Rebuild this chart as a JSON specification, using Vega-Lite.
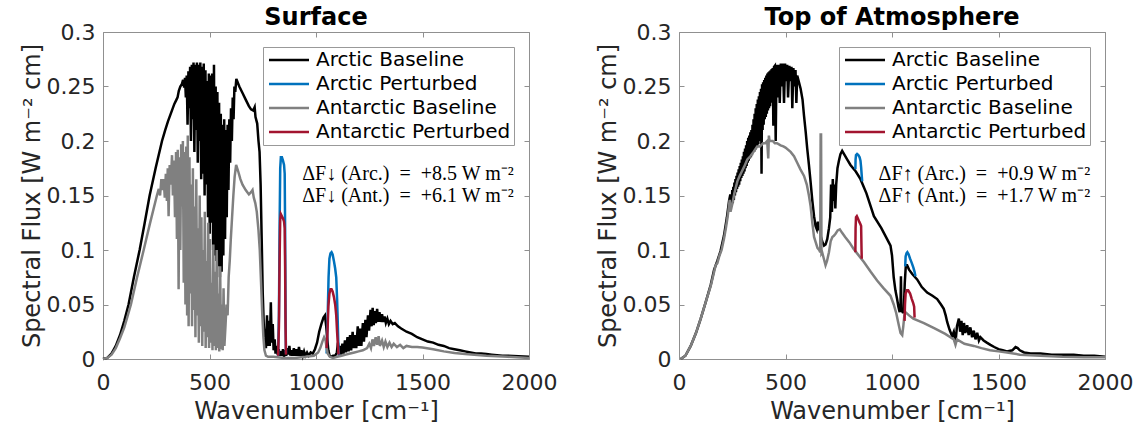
{
"$schema":"https://vega.github.io/schema/vega-lite/v6.json",
"padding":{"left":20,"top":6,"right":5,"bottom":2},
"spacing":150,
"bounds":"flush",
"resolve":{"scale":{"color":"independent"},"legend":{"color":"independent"}},
"datasets":{
"sAB":[{"x":0,"y":0},{"x":20,"y":0.001},{"x":40,"y":0.005},{"x":60,"y":0.012},{"x":80,"y":0.022},{"x":100,"y":0.035},{"x":120,"y":0.05},{"x":145,"y":0.075},{"x":172,"y":0.1},{"x":195,"y":0.124},{"x":219,"y":0.15},{"x":248,"y":0.176},{"x":277,"y":0.2},{"x":292,"y":0.21},{"x":305,"y":0.218},{"x":320,"y":0.226},{"x":335,"y":0.234},{"x":345,"y":0.238},{"x":350,"y":0.24},{"x":356,"y":0.246},{"x":363,"y":0.25},{"x":370,"y":0.252},{"x":376,"y":0.256},{"x":381,"y":0.249},{"x":385,"y":0.258},{"x":389,"y":0.24},{"x":393,"y":0.26},{"x":397,"y":0.215},{"x":401,"y":0.264},{"x":405,"y":0.23},{"x":409,"y":0.268},{"x":413,"y":0.2},{"x":417,"y":0.27},{"x":421,"y":0.22},{"x":425,"y":0.272},{"x":429,"y":0.19},{"x":433,"y":0.27},{"x":437,"y":0.21},{"x":441,"y":0.272},{"x":445,"y":0.18},{"x":449,"y":0.27},{"x":453,"y":0.2},{"x":457,"y":0.272},{"x":461,"y":0.165},{"x":465,"y":0.268},{"x":469,"y":0.17},{"x":473,"y":0.271},{"x":477,"y":0.15},{"x":481,"y":0.265},{"x":485,"y":0.16},{"x":489,"y":0.255},{"x":493,"y":0.13},{"x":497,"y":0.262},{"x":501,"y":0.115},{"x":505,"y":0.26},{"x":509,"y":0.125},{"x":513,"y":0.262},{"x":517,"y":0.1},{"x":521,"y":0.27},{"x":525,"y":0.095},{"x":529,"y":0.25},{"x":533,"y":0.09},{"x":537,"y":0.245},{"x":541,"y":0.085},{"x":545,"y":0.235},{"x":549,"y":0.075},{"x":553,"y":0.225},{"x":557,"y":0.08},{"x":561,"y":0.215},{"x":565,"y":0.095},{"x":569,"y":0.22},{"x":573,"y":0.11},{"x":577,"y":0.21},{"x":581,"y":0.13},{"x":585,"y":0.215},{"x":589,"y":0.155},{"x":593,"y":0.22},{"x":597,"y":0.18},{"x":601,"y":0.23},{"x":605,"y":0.2},{"x":609,"y":0.24},{"x":613,"y":0.22},{"x":617,"y":0.25},{"x":621,"y":0.245},{"x":626,"y":0.257},{"x":640,"y":0.25},{"x":655,"y":0.244},{"x":670,"y":0.238},{"x":685,"y":0.232},{"x":695,"y":0.229},{"x":705,"y":0.228},{"x":712,"y":0.231},{"x":716,"y":0.222},{"x":724,"y":0.216},{"x":730,"y":0.2},{"x":735,"y":0.19},{"x":740,"y":0.16},{"x":745,"y":0.11},{"x":750,"y":0.06},{"x":755,"y":0.03},{"x":760,"y":0.015},{"x":765,"y":0.01},{"x":770,"y":0.04},{"x":774,"y":0.012},{"x":779,"y":0.035},{"x":783,"y":0.012},{"x":788,"y":0.052},{"x":792,"y":0.015},{"x":797,"y":0.032},{"x":801,"y":0.008},{"x":806,"y":0.018},{"x":810,"y":0.005},{"x":815,"y":0.012},{"x":820,"y":0.004},{"x":825,"y":0.009},{"x":830,"y":0.003},{"x":835,"y":0.007},{"x":840,"y":0.003},{"x":845,"y":0.009},{"x":850,"y":0.002},{"x":855,"y":0.008},{"x":860,"y":0.003},{"x":865,"y":0.01},{"x":870,"y":0.004},{"x":875,"y":0.012},{"x":880,"y":0.003},{"x":885,"y":0.008},{"x":890,"y":0.003},{"x":896,"y":0.01},{"x":902,"y":0.003},{"x":908,"y":0.009},{"x":914,"y":0.003},{"x":920,"y":0.011},{"x":926,"y":0.003},{"x":932,"y":0.008},{"x":938,"y":0.003},{"x":944,"y":0.007},{"x":950,"y":0.003},{"x":958,"y":0.006},{"x":966,"y":0.003},{"x":975,"y":0.006},{"x":985,"y":0.005},{"x":995,"y":0.009},{"x":1005,"y":0.015},{"x":1015,"y":0.025},{"x":1025,"y":0.032},{"x":1035,"y":0.038},{"x":1042,"y":0.04},{"x":1048,"y":0.03},{"x":1053,"y":0.018},{"x":1058,"y":0.008},{"x":1064,"y":0.003},{"x":1072,"y":0.002},{"x":1080,"y":0.003},{"x":1090,"y":0.003},{"x":1098,"y":0.006},{"x":1103,"y":0.015},{"x":1108,"y":0.005},{"x":1113,"y":0.012},{"x":1118,"y":0.004},{"x":1124,"y":0.014},{"x":1129,"y":0.005},{"x":1136,"y":0.017},{"x":1141,"y":0.006},{"x":1148,"y":0.02},{"x":1153,"y":0.007},{"x":1160,"y":0.022},{"x":1165,"y":0.008},{"x":1172,"y":0.025},{"x":1177,"y":0.01},{"x":1184,"y":0.022},{"x":1189,"y":0.01},{"x":1196,"y":0.03},{"x":1201,"y":0.012},{"x":1208,"y":0.028},{"x":1213,"y":0.012},{"x":1220,"y":0.033},{"x":1225,"y":0.016},{"x":1232,"y":0.036},{"x":1237,"y":0.02},{"x":1244,"y":0.04},{"x":1249,"y":0.026},{"x":1256,"y":0.045},{"x":1261,"y":0.03},{"x":1266,"y":0.047},{"x":1271,"y":0.031},{"x":1276,"y":0.044},{"x":1281,"y":0.033},{"x":1287,"y":0.046},{"x":1292,"y":0.034},{"x":1298,"y":0.043},{"x":1304,"y":0.034},{"x":1310,"y":0.041},{"x":1316,"y":0.034},{"x":1322,"y":0.039},{"x":1328,"y":0.033},{"x":1335,"y":0.037},{"x":1342,"y":0.032},{"x":1350,"y":0.035},{"x":1360,"y":0.032},{"x":1370,"y":0.033},{"x":1385,"y":0.03},{"x":1400,"y":0.028},{"x":1425,"y":0.025},{"x":1450,"y":0.023},{"x":1475,"y":0.02},{"x":1500,"y":0.018},{"x":1525,"y":0.016},{"x":1550,"y":0.015},{"x":1575,"y":0.013},{"x":1600,"y":0.012},{"x":1625,"y":0.01},{"x":1650,"y":0.009},{"x":1675,"y":0.008},{"x":1700,"y":0.007},{"x":1725,"y":0.006},{"x":1750,"y":0.005},{"x":1775,"y":0.005},{"x":1800,"y":0.0045},{"x":1825,"y":0.004},{"x":1850,"y":0.0035},{"x":1875,"y":0.003},{"x":1900,"y":0.003},{"x":1950,"y":0.0025},{"x":2000,"y":0.002}],
"sAP":[{"g":1,"x":822,"y":0.003},{"g":1,"x":826,"y":0.04},{"g":1,"x":829,"y":0.12},{"g":1,"x":832,"y":0.175},{"g":1,"x":835,"y":0.185},{"g":1,"x":840,"y":0.185},{"g":1,"x":845,"y":0.182},{"g":1,"x":850,"y":0.178},{"g":1,"x":853,"y":0.17},{"g":1,"x":855,"y":0.12},{"g":1,"x":857,"y":0.04},{"g":1,"x":859,"y":0.005},{"g":2,"x":1050,"y":0.005},{"g":2,"x":1055,"y":0.04},{"g":2,"x":1059,"y":0.075},{"g":2,"x":1063,"y":0.092},{"g":2,"x":1068,"y":0.097},{"g":2,"x":1073,"y":0.098},{"g":2,"x":1078,"y":0.096},{"g":2,"x":1084,"y":0.09},{"g":2,"x":1090,"y":0.083},{"g":2,"x":1095,"y":0.075},{"g":2,"x":1099,"y":0.055},{"g":2,"x":1102,"y":0.035},{"g":2,"x":1105,"y":0.012},{"g":2,"x":1108,"y":0.002}],
"sNB":[{"x":0,"y":0},{"x":20,"y":0.001},{"x":40,"y":0.004},{"x":60,"y":0.01},{"x":80,"y":0.019},{"x":100,"y":0.029},{"x":115,"y":0.039},{"x":131,"y":0.05},{"x":160,"y":0.075},{"x":191,"y":0.1},{"x":220,"y":0.124},{"x":253,"y":0.15},{"x":262,"y":0.156},{"x":268,"y":0.15},{"x":274,"y":0.165},{"x":280,"y":0.155},{"x":285,"y":0.165},{"x":290,"y":0.148},{"x":295,"y":0.17},{"x":300,"y":0.145},{"x":304,"y":0.175},{"x":308,"y":0.131},{"x":313,"y":0.178},{"x":318,"y":0.16},{"x":324,"y":0.187},{"x":328,"y":0.15},{"x":333,"y":0.182},{"x":338,"y":0.13},{"x":343,"y":0.19},{"x":347,"y":0.11},{"x":351,"y":0.192},{"x":355,"y":0.064},{"x":359,"y":0.185},{"x":363,"y":0.1},{"x":367,"y":0.197},{"x":371,"y":0.14},{"x":375,"y":0.2},{"x":379,"y":0.07},{"x":383,"y":0.19},{"x":387,"y":0.05},{"x":391,"y":0.195},{"x":395,"y":0.04},{"x":398,"y":0.205},{"x":402,"y":0.03},{"x":406,"y":0.185},{"x":410,"y":0.06},{"x":414,"y":0.16},{"x":418,"y":0.03},{"x":422,"y":0.175},{"x":426,"y":0.045},{"x":430,"y":0.14},{"x":434,"y":0.02},{"x":438,"y":0.165},{"x":442,"y":0.04},{"x":446,"y":0.12},{"x":450,"y":0.015},{"x":454,"y":0.15},{"x":458,"y":0.03},{"x":462,"y":0.13},{"x":466,"y":0.012},{"x":470,"y":0.1},{"x":474,"y":0.025},{"x":478,"y":0.135},{"x":482,"y":0.01},{"x":486,"y":0.09},{"x":490,"y":0.02},{"x":494,"y":0.125},{"x":498,"y":0.01},{"x":502,"y":0.11},{"x":506,"y":0.015},{"x":510,"y":0.07},{"x":514,"y":0.008},{"x":518,"y":0.105},{"x":522,"y":0.012},{"x":526,"y":0.08},{"x":530,"y":0.008},{"x":534,"y":0.1},{"x":538,"y":0.01},{"x":542,"y":0.06},{"x":546,"y":0.007},{"x":550,"y":0.085},{"x":554,"y":0.009},{"x":558,"y":0.05},{"x":562,"y":0.008},{"x":566,"y":0.065},{"x":570,"y":0.012},{"x":575,"y":0.03},{"x":580,"y":0.05},{"x":585,"y":0.04},{"x":590,"y":0.075},{"x":595,"y":0.09},{"x":600,"y":0.11},{"x":606,"y":0.13},{"x":612,"y":0.15},{"x":618,"y":0.167},{"x":625,"y":0.178},{"x":635,"y":0.172},{"x":645,"y":0.165},{"x":655,"y":0.16},{"x":670,"y":0.155},{"x":685,"y":0.151},{"x":695,"y":0.153},{"x":702,"y":0.155},{"x":708,"y":0.148},{"x":715,"y":0.143},{"x":722,"y":0.135},{"x":730,"y":0.118},{"x":736,"y":0.1},{"x":742,"y":0.07},{"x":748,"y":0.04},{"x":753,"y":0.02},{"x":758,"y":0.008},{"x":765,"y":0.003},{"x":775,"y":0.002},{"x":800,"y":0.002},{"x":850,"y":0.001},{"x":900,"y":0.001},{"x":950,"y":0.002},{"x":990,"y":0.003},{"x":1010,"y":0.006},{"x":1020,"y":0.01},{"x":1030,"y":0.016},{"x":1038,"y":0.02},{"x":1045,"y":0.017},{"x":1050,"y":0.01},{"x":1055,"y":0.005},{"x":1065,"y":0.002},{"x":1080,"y":0.001},{"x":1100,"y":0.002},{"x":1120,"y":0.003},{"x":1140,"y":0.004},{"x":1160,"y":0.005},{"x":1180,"y":0.006},{"x":1200,"y":0.007},{"x":1220,"y":0.008},{"x":1240,"y":0.01},{"x":1250,"y":0.014},{"x":1258,"y":0.01},{"x":1265,"y":0.018},{"x":1272,"y":0.012},{"x":1280,"y":0.02},{"x":1287,"y":0.013},{"x":1294,"y":0.021},{"x":1300,"y":0.012},{"x":1310,"y":0.017},{"x":1318,"y":0.011},{"x":1326,"y":0.016},{"x":1335,"y":0.011},{"x":1345,"y":0.015},{"x":1355,"y":0.011},{"x":1365,"y":0.014},{"x":1380,"y":0.011},{"x":1395,"y":0.013},{"x":1410,"y":0.01},{"x":1425,"y":0.012},{"x":1450,"y":0.011},{"x":1475,"y":0.011},{"x":1500,"y":0.0105},{"x":1550,"y":0.009},{"x":1600,"y":0.007},{"x":1650,"y":0.0055},{"x":1700,"y":0.0045},{"x":1800,"y":0.003},{"x":1900,"y":0.002},{"x":2000,"y":0.001}],
"sNP":[{"g":1,"x":822,"y":0.003},{"g":1,"x":826,"y":0.03},{"g":1,"x":829,"y":0.09},{"g":1,"x":832,"y":0.128},{"g":1,"x":835,"y":0.133},{"g":1,"x":840,"y":0.131},{"g":1,"x":845,"y":0.129},{"g":1,"x":850,"y":0.126},{"g":1,"x":853,"y":0.12},{"g":1,"x":855,"y":0.085},{"g":1,"x":857,"y":0.03},{"g":1,"x":859,"y":0.004},{"g":2,"x":1050,"y":0.01},{"g":2,"x":1054,"y":0.025},{"g":2,"x":1058,"y":0.048},{"g":2,"x":1063,"y":0.06},{"g":2,"x":1068,"y":0.064},{"g":2,"x":1073,"y":0.064},{"g":2,"x":1078,"y":0.062},{"g":2,"x":1084,"y":0.057},{"g":2,"x":1090,"y":0.05},{"g":2,"x":1095,"y":0.04},{"g":2,"x":1099,"y":0.025},{"g":2,"x":1103,"y":0.012},{"g":2,"x":1106,"y":0.004}],
"tAB":[{"x":8,"y":0},{"x":30,"y":0.003},{"x":55,"y":0.012},{"x":80,"y":0.024},{"x":102,"y":0.037},{"x":125,"y":0.052},{"x":149,"y":0.068},{"x":165,"y":0.082},{"x":180,"y":0.09},{"x":195,"y":0.099},{"x":211,"y":0.113},{"x":225,"y":0.13},{"x":235,"y":0.145},{"x":240,"y":0.15},{"x":245,"y":0.15},{"x":247.5,"y":0.14},{"x":250,"y":0.155},{"x":252.5,"y":0.143},{"x":255,"y":0.158},{"x":257.5,"y":0.146},{"x":260,"y":0.162},{"x":262.5,"y":0.15},{"x":265,"y":0.165},{"x":267.5,"y":0.153},{"x":270,"y":0.168},{"x":272.5,"y":0.156},{"x":275,"y":0.171},{"x":277.5,"y":0.158},{"x":280,"y":0.174},{"x":282.5,"y":0.16},{"x":285,"y":0.177},{"x":287.5,"y":0.163},{"x":290,"y":0.18},{"x":292.5,"y":0.166},{"x":295,"y":0.183},{"x":297.5,"y":0.168},{"x":300,"y":0.186},{"x":302.5,"y":0.17},{"x":305,"y":0.19},{"x":307.5,"y":0.172},{"x":310,"y":0.193},{"x":312.5,"y":0.175},{"x":315,"y":0.196},{"x":317.5,"y":0.177},{"x":320,"y":0.2},{"x":322.5,"y":0.18},{"x":325,"y":0.203},{"x":327.5,"y":0.182},{"x":330,"y":0.205},{"x":332.5,"y":0.184},{"x":335,"y":0.208},{"x":337.5,"y":0.185},{"x":340,"y":0.21},{"x":342.5,"y":0.187},{"x":345,"y":0.215},{"x":347.5,"y":0.19},{"x":350,"y":0.22},{"x":352.5,"y":0.19},{"x":355,"y":0.225},{"x":357.5,"y":0.192},{"x":360,"y":0.23},{"x":362.5,"y":0.194},{"x":365,"y":0.234},{"x":367.5,"y":0.195},{"x":370,"y":0.238},{"x":372.5,"y":0.197},{"x":375,"y":0.241},{"x":377.5,"y":0.2},{"x":380,"y":0.245},{"x":382.5,"y":0.205},{"x":385,"y":0.248},{"x":387.5,"y":0.17},{"x":390,"y":0.252},{"x":392.5,"y":0.21},{"x":395,"y":0.254},{"x":397.5,"y":0.215},{"x":400,"y":0.256},{"x":402.5,"y":0.22},{"x":405,"y":0.258},{"x":407.5,"y":0.222},{"x":410,"y":0.26},{"x":412.5,"y":0.225},{"x":415,"y":0.262},{"x":417.5,"y":0.228},{"x":420,"y":0.263},{"x":422.5,"y":0.23},{"x":425,"y":0.264},{"x":427.5,"y":0.232},{"x":430,"y":0.265},{"x":432.5,"y":0.235},{"x":435,"y":0.266},{"x":437.5,"y":0.236},{"x":440,"y":0.267},{"x":443,"y":0.214},{"x":446,"y":0.268},{"x":450,"y":0.269},{"x":454,"y":0.2},{"x":458,"y":0.27},{"x":463,"y":0.24},{"x":468,"y":0.27},{"x":473,"y":0.235},{"x":478,"y":0.271},{"x":484,"y":0.25},{"x":488,"y":0.271},{"x":493,"y":0.235},{"x":498,"y":0.271},{"x":503,"y":0.255},{"x":508,"y":0.27},{"x":512,"y":0.24},{"x":518,"y":0.269},{"x":524,"y":0.255},{"x":528,"y":0.268},{"x":532,"y":0.23},{"x":537,"y":0.267},{"x":542,"y":0.25},{"x":547,"y":0.265},{"x":551,"y":0.235},{"x":555,"y":0.26},{"x":563,"y":0.254},{"x":571,"y":0.248},{"x":580,"y":0.238},{"x":587,"y":0.223},{"x":595,"y":0.208},{"x":602,"y":0.193},{"x":610,"y":0.178},{"x":618,"y":0.162},{"x":626,"y":0.145},{"x":634,"y":0.131},{"x":641,"y":0.122},{"x":647,"y":0.119},{"x":652,"y":0.126},{"x":656,"y":0.118},{"x":660,"y":0.122},{"x":665,"y":0.113},{"x":672,"y":0.108},{"x":681,"y":0.104},{"x":688,"y":0.105},{"x":696,"y":0.11},{"x":704,"y":0.12},{"x":710,"y":0.13},{"x":714,"y":0.16},{"x":718,"y":0.135},{"x":722,"y":0.165},{"x":726,"y":0.145},{"x":730,"y":0.16},{"x":734,"y":0.138},{"x":738,"y":0.16},{"x":744,"y":0.175},{"x":751,"y":0.182},{"x":758,"y":0.188},{"x":766,"y":0.191},{"x":775,"y":0.188},{"x":790,"y":0.183},{"x":805,"y":0.178},{"x":830,"y":0.172},{"x":852,"y":0.165},{"x":880,"y":0.152},{"x":915,"y":0.131},{"x":950,"y":0.12},{"x":977,"y":0.11},{"x":993,"y":0.104},{"x":1000,"y":0.095},{"x":1008,"y":0.075},{"x":1016,"y":0.063},{"x":1024,"y":0.055},{"x":1030,"y":0.048},{"x":1036,"y":0.043},{"x":1040,"y":0.05},{"x":1042,"y":0.076},{"x":1044,"y":0.045},{"x":1050,"y":0.043},{"x":1055,"y":0.043},{"x":1060,"y":0.07},{"x":1065,"y":0.086},{"x":1071,"y":0.086},{"x":1080,"y":0.082},{"x":1095,"y":0.078},{"x":1118,"y":0.073},{"x":1140,"y":0.066},{"x":1165,"y":0.061},{"x":1190,"y":0.058},{"x":1212,"y":0.055},{"x":1230,"y":0.05},{"x":1243,"y":0.046},{"x":1252,"y":0.04},{"x":1259,"y":0.034},{"x":1270,"y":0.027},{"x":1282,"y":0.021},{"x":1290,"y":0.025},{"x":1298,"y":0.015},{"x":1305,"y":0.03},{"x":1314,"y":0.037},{"x":1320,"y":0.025},{"x":1326,"y":0.035},{"x":1332,"y":0.022},{"x":1338,"y":0.033},{"x":1344,"y":0.024},{"x":1353,"y":0.031},{"x":1360,"y":0.022},{"x":1368,"y":0.029},{"x":1376,"y":0.02},{"x":1384,"y":0.026},{"x":1392,"y":0.018},{"x":1400,"y":0.024},{"x":1408,"y":0.017},{"x":1415,"y":0.02},{"x":1430,"y":0.017},{"x":1445,"y":0.015},{"x":1462,"y":0.013},{"x":1480,"y":0.011},{"x":1500,"y":0.009},{"x":1520,"y":0.008},{"x":1540,"y":0.007},{"x":1565,"y":0.008},{"x":1580,"y":0.011},{"x":1590,"y":0.01},{"x":1600,"y":0.008},{"x":1620,"y":0.006},{"x":1650,"y":0.005},{"x":1697,"y":0.005},{"x":1750,"y":0.004},{"x":1800,"y":0.004},{"x":1853,"y":0.004},{"x":1900,"y":0.003},{"x":1950,"y":0.003},{"x":2000,"y":0.002}],
"tAP":[{"g":1,"x":828,"y":0.174},{"g":1,"x":829,"y":0.183},{"g":1,"x":831,"y":0.187},{"g":1,"x":836,"y":0.188},{"g":1,"x":842,"y":0.187},{"g":1,"x":848,"y":0.185},{"g":1,"x":852,"y":0.182},{"g":1,"x":855,"y":0.176},{"g":1,"x":858,"y":0.168},{"g":1,"x":860,"y":0.163},{"g":2,"x":1062,"y":0.085},{"g":2,"x":1064,"y":0.094},{"g":2,"x":1068,"y":0.097},{"g":2,"x":1072,"y":0.098},{"g":2,"x":1078,"y":0.096},{"g":2,"x":1085,"y":0.092},{"g":2,"x":1093,"y":0.088},{"g":2,"x":1100,"y":0.084},{"g":2,"x":1106,"y":0.08},{"g":2,"x":1110,"y":0.076}],
"tNB":[{"x":8,"y":0},{"x":30,"y":0.003},{"x":55,"y":0.012},{"x":80,"y":0.024},{"x":102,"y":0.037},{"x":125,"y":0.052},{"x":149,"y":0.067},{"x":165,"y":0.08},{"x":172,"y":0.086},{"x":180,"y":0.088},{"x":190,"y":0.095},{"x":200,"y":0.1},{"x":211,"y":0.11},{"x":220,"y":0.12},{"x":228,"y":0.13},{"x":235,"y":0.141},{"x":238,"y":0.146},{"x":242,"y":0.135},{"x":250,"y":0.142},{"x":260,"y":0.152},{"x":274,"y":0.163},{"x":285,"y":0.168},{"x":295,"y":0.172},{"x":305,"y":0.176},{"x":321,"y":0.183},{"x":335,"y":0.186},{"x":350,"y":0.19},{"x":367,"y":0.195},{"x":380,"y":0.195},{"x":395,"y":0.198},{"x":405,"y":0.198},{"x":414,"y":0.2},{"x":419,"y":0.184},{"x":422,"y":0.205},{"x":425,"y":0.2},{"x":440,"y":0.2},{"x":450,"y":0.198},{"x":460,"y":0.198},{"x":477,"y":0.196},{"x":490,"y":0.195},{"x":500,"y":0.194},{"x":524,"y":0.19},{"x":540,"y":0.186},{"x":555,"y":0.18},{"x":570,"y":0.174},{"x":587,"y":0.168},{"x":600,"y":0.16},{"x":610,"y":0.15},{"x":618,"y":0.14},{"x":626,"y":0.125},{"x":634,"y":0.112},{"x":642,"y":0.107},{"x":650,"y":0.102},{"x":658,"y":0.1},{"x":663,"y":0.098},{"x":665,"y":0.206},{"x":667,"y":0.206},{"x":669,"y":0.097},{"x":672,"y":0.098},{"x":680,"y":0.092},{"x":688,"y":0.086},{"x":695,"y":0.09},{"x":704,"y":0.098},{"x":712,"y":0.108},{"x":720,"y":0.112},{"x":727,"y":0.113},{"x":735,"y":0.115},{"x":745,"y":0.118},{"x":755,"y":0.119},{"x":765,"y":0.116},{"x":780,"y":0.112},{"x":800,"y":0.107},{"x":820,"y":0.101},{"x":840,"y":0.096},{"x":868,"y":0.089},{"x":900,"y":0.08},{"x":930,"y":0.072},{"x":960,"y":0.065},{"x":993,"y":0.058},{"x":1008,"y":0.05},{"x":1020,"y":0.042},{"x":1032,"y":0.031},{"x":1040,"y":0.024},{"x":1048,"y":0.022},{"x":1053,"y":0.03},{"x":1058,"y":0.04},{"x":1063,"y":0.043},{"x":1080,"y":0.04},{"x":1100,"y":0.037},{"x":1150,"y":0.033},{"x":1200,"y":0.028},{"x":1250,"y":0.023},{"x":1274,"y":0.02},{"x":1290,"y":0.018},{"x":1298,"y":0.013},{"x":1305,"y":0.018},{"x":1340,"y":0.014},{"x":1384,"y":0.012},{"x":1420,"y":0.01},{"x":1460,"y":0.008},{"x":1500,"y":0.007},{"x":1540,"y":0.006},{"x":1600,"y":0.004},{"x":1697,"y":0.003},{"x":1800,"y":0.002},{"x":1900,"y":0.0015},{"x":2000,"y":0.0015}],
"tNP":[{"g":1,"x":828,"y":0.098},{"g":1,"x":829,"y":0.12},{"g":1,"x":831,"y":0.13},{"g":1,"x":835,"y":0.131},{"g":1,"x":840,"y":0.129},{"g":1,"x":846,"y":0.126},{"g":1,"x":851,"y":0.124},{"g":1,"x":855,"y":0.122},{"g":1,"x":857,"y":0.1},{"g":1,"x":858,"y":0.092},{"g":2,"x":1059,"y":0.035},{"g":2,"x":1061,"y":0.05},{"g":2,"x":1064,"y":0.06},{"g":2,"x":1070,"y":0.063},{"g":2,"x":1076,"y":0.063},{"g":2,"x":1085,"y":0.06},{"g":2,"x":1093,"y":0.055},{"g":2,"x":1100,"y":0.051},{"g":2,"x":1104,"y":0.048},{"g":2,"x":1106,"y":0.038}]
},
"hconcat":[
{
"width":426,"height":327,
"title":{"text":"Surface"},
"layer":[
{"data":{"name":"sAB"},"mark":{"type":"line","strokeWidth":2.5},
"encoding":{"x":{"field":"x","type":"quantitative","scale":{"domain":[0,2000],"nice":false},"axis":{"title":"Wavenumber [cm⁻¹]","values":[0,500,1000,1500,2000],"format":"d"}},
"y":{"field":"y","type":"quantitative","scale":{"domain":[0,0.3],"nice":false,"zero":false},"axis":{"title":"Spectral Flux [W m⁻² cm]","values":[0,0.05,0.1,0.15,0.2,0.25,0.3],"format":"~g"}},
"color":{"datum":"Arctic Baseline","type":"nominal","title":null,"scale":{"domain":["Arctic Baseline","Arctic Perturbed","Antarctic Baseline","Antarctic Perturbed"],"range":["#000000","#0072BD","#808080","#A2142F"]}}}},
{"data":{"name":"sAP"},"mark":{"type":"line","strokeWidth":2.5},
"encoding":{"x":{"field":"x","type":"quantitative","axis":null},"y":{"field":"y","type":"quantitative","axis":null},"detail":{"field":"g"},
"color":{"datum":"Arctic Perturbed","type":"nominal","title":null,"scale":{"domain":["Arctic Baseline","Arctic Perturbed","Antarctic Baseline","Antarctic Perturbed"],"range":["#000000","#0072BD","#808080","#A2142F"]}}}},
{"data":{"name":"sNB"},"mark":{"type":"line","strokeWidth":2.5},
"encoding":{"x":{"field":"x","type":"quantitative","axis":null},"y":{"field":"y","type":"quantitative","axis":null},
"color":{"datum":"Antarctic Baseline","type":"nominal","title":null,"scale":{"domain":["Arctic Baseline","Arctic Perturbed","Antarctic Baseline","Antarctic Perturbed"],"range":["#000000","#0072BD","#808080","#A2142F"]}}}},
{"data":{"name":"sNP"},"mark":{"type":"line","strokeWidth":2.5},
"encoding":{"x":{"field":"x","type":"quantitative","axis":null},"y":{"field":"y","type":"quantitative","axis":null},"detail":{"field":"g"},
"color":{"datum":"Antarctic Perturbed","type":"nominal","title":null,"scale":{"domain":["Arctic Baseline","Arctic Perturbed","Antarctic Baseline","Antarctic Perturbed"],"range":["#000000","#0072BD","#808080","#A2142F"]}}}},
{"data":{"values":[{"x":935,"y":0.17,"t":"ΔF↓ (Arc.)\u00a0\u00a0=\u00a0\u00a0+8.5 W m⁻²"},{"x":935,"y":0.15,"t":"ΔF↓ (Ant.)\u00a0\u00a0=\u00a0\u00a0+6.1 W m⁻²"}]},
"mark":{"type":"text","align":"left","baseline":"middle","font":"Liberation Serif","fontSize":20,"color":"#000"},
"encoding":{"x":{"field":"x","type":"quantitative","axis":{"orient":"top","labels":false,"title":null,"labelPadding":0,"minExtent":0,"maxExtent":0,"values":[0,500,1000,1500,2000]}},
"y":{"field":"y","type":"quantitative","axis":{"orient":"right","labels":false,"title":null,"labelPadding":0,"minExtent":0,"maxExtent":0,"values":[0,0.05,0.1,0.15,0.2,0.25,0.3]}},
"text":{"field":"t"}}}
],
"resolve":{"axis":{"x":"independent","y":"independent"}}
},
{
"width":426,"height":327,
"title":{"text":"Top of Atmosphere"},
"layer":[
{"data":{"name":"tAB"},"mark":{"type":"line","strokeWidth":2.5},
"encoding":{"x":{"field":"x","type":"quantitative","scale":{"domain":[0,2000],"nice":false},"axis":{"title":"Wavenumber [cm⁻¹]","values":[0,500,1000,1500,2000],"format":"d"}},
"y":{"field":"y","type":"quantitative","scale":{"domain":[0,0.3],"nice":false,"zero":false},"axis":{"title":"Spectral Flux [W m⁻² cm]","values":[0,0.05,0.1,0.15,0.2,0.25,0.3],"format":"~g"}},
"color":{"datum":"Arctic Baseline","type":"nominal","title":null,"scale":{"domain":["Arctic Baseline","Arctic Perturbed","Antarctic Baseline","Antarctic Perturbed"],"range":["#000000","#0072BD","#808080","#A2142F"]}}}},
{"data":{"name":"tAP"},"mark":{"type":"line","strokeWidth":2.5},
"encoding":{"x":{"field":"x","type":"quantitative","axis":null},"y":{"field":"y","type":"quantitative","axis":null},"detail":{"field":"g"},
"color":{"datum":"Arctic Perturbed","type":"nominal","title":null,"scale":{"domain":["Arctic Baseline","Arctic Perturbed","Antarctic Baseline","Antarctic Perturbed"],"range":["#000000","#0072BD","#808080","#A2142F"]}}}},
{"data":{"name":"tNB"},"mark":{"type":"line","strokeWidth":2.5},
"encoding":{"x":{"field":"x","type":"quantitative","axis":null},"y":{"field":"y","type":"quantitative","axis":null},
"color":{"datum":"Antarctic Baseline","type":"nominal","title":null,"scale":{"domain":["Arctic Baseline","Arctic Perturbed","Antarctic Baseline","Antarctic Perturbed"],"range":["#000000","#0072BD","#808080","#A2142F"]}}}},
{"data":{"name":"tNP"},"mark":{"type":"line","strokeWidth":2.5},
"encoding":{"x":{"field":"x","type":"quantitative","axis":null},"y":{"field":"y","type":"quantitative","axis":null},"detail":{"field":"g"},
"color":{"datum":"Antarctic Perturbed","type":"nominal","title":null,"scale":{"domain":["Arctic Baseline","Arctic Perturbed","Antarctic Baseline","Antarctic Perturbed"],"range":["#000000","#0072BD","#808080","#A2142F"]}}}},
{"data":{"values":[{"x":937,"y":0.17,"t":"ΔF↑ (Arc.)\u00a0\u00a0=\u00a0\u00a0+0.9 W m⁻²"},{"x":937,"y":0.15,"t":"ΔF↑ (Ant.)\u00a0\u00a0=\u00a0\u00a0+1.7 W m⁻²"}]},
"mark":{"type":"text","align":"left","baseline":"middle","font":"Liberation Serif","fontSize":20,"color":"#000"},
"encoding":{"x":{"field":"x","type":"quantitative","axis":{"orient":"top","labels":false,"title":null,"labelPadding":0,"minExtent":0,"maxExtent":0,"values":[0,500,1000,1500,2000]}},
"y":{"field":"y","type":"quantitative","axis":{"orient":"right","labels":false,"title":null,"labelPadding":0,"minExtent":0,"maxExtent":0,"values":[0,0.05,0.1,0.15,0.2,0.25,0.3]}},
"text":{"field":"t"}}}
],
"resolve":{"axis":{"x":"independent","y":"independent"}}
}
],
"config":{
"font":"DejaVu Sans",
"view":{"stroke":null},
"axis":{"domainColor":"#909090","domainWidth":1,"tickColor":"#909090","tickSize":-5,"labelPadding":13,"labelFontSize":22,"labelColor":"#262626","titleFontSize":24,"titleFontWeight":"normal","titleColor":"#262626","grid":false,"labelFlush":false,"labelOverlap":false,"labelBound":false},
"axisY":{"titlePadding":2},
"axisX":{"titlePadding":6,"labelPadding":18},
"title":{"fontSize":24,"fontWeight":"bold","color":"#000000","offset":-9,"font":"DejaVu Sans","anchor":"middle"},
"legend":{"orient":"top-right","offset":15,"symbolType":"M-1.4,0H6.6","symbolSize":100,"symbolStrokeWidth":2.5,"labelFontSize":20,"labelColor":"#000000","labelLimit":400,"strokeColor":"#999999","fillColor":"#ffffff","padding":3,"rowPadding":4,"labelOffset":30}
}
}
